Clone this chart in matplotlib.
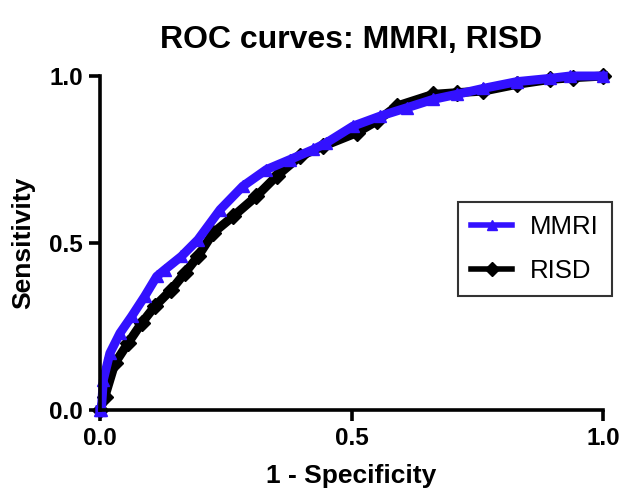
import matplotlib
matplotlib.use("Agg")
import matplotlib.pyplot as plt

plt.rcParams['font.family'] = ['Liberation Sans', 'DejaVu Sans']

# ROC points (1 - specificity, sensitivity)
fpr_mmri = [0.0, 0.003, 0.007, 0.02, 0.04, 0.063, 0.089, 0.113, 0.129, 0.162,
            0.195, 0.239, 0.284, 0.331, 0.378, 0.424, 0.45, 0.503, 0.557,
            0.61, 0.662, 0.709, 0.762, 0.828, 0.895, 0.934, 1.0]
tpr_mmri = [0.0, 0.0, 0.09, 0.17, 0.23, 0.28, 0.34, 0.40, 0.42, 0.46,
            0.51, 0.60, 0.67, 0.72, 0.75, 0.78, 0.80, 0.85, 0.88,
            0.905, 0.93, 0.945, 0.963, 0.983, 0.993, 1.0, 1.0]

fpr_risd = [0.0, 0.01, 0.03, 0.056, 0.083, 0.109, 0.142, 0.169, 0.195,
            0.225, 0.265, 0.311, 0.351, 0.398, 0.444, 0.51, 0.55, 0.59,
            0.662, 0.709, 0.762, 0.828, 0.895, 0.94, 1.0]
tpr_risd = [0.0, 0.04, 0.14, 0.20, 0.26, 0.31, 0.36, 0.41, 0.46,
            0.53, 0.58, 0.64, 0.70, 0.76, 0.79, 0.83, 0.865, 0.91,
            0.945, 0.95, 0.955, 0.975, 0.99, 0.995, 1.0]

blue = '#3311ff'

fig = plt.figure(figsize=(6.2, 4.92), dpi=100)
ax = fig.add_axes([0.161, 0.1667, 0.812, 0.6788])

ax.plot(fpr_risd, tpr_risd, color='black', lw=6.5, marker='D', ms=8,
        label='RISD', clip_on=False, solid_joinstyle='round')
ax.plot(fpr_mmri, tpr_mmri, color=blue, lw=6.5, marker='^', ms=9,
        label='MMRI', clip_on=False, solid_joinstyle='round')

ax.set_xlim(0, 1)
ax.set_ylim(0, 1)
ax.set_xticks([0.0, 0.5, 1.0])
ax.set_yticks([0.0, 0.5, 1.0])
ax.set_xticklabels(['0.0', '0.5', '1.0'])
ax.set_yticklabels(['0.0', '0.5', '1.0'])

for side in ['top', 'right']:
    ax.spines[side].set_visible(False)
for side in ['left', 'bottom']:
    ax.spines[side].set_linewidth(2.6)

ax.tick_params(axis='both', direction='out', length=8, width=2.6,
               labelsize=17.5, pad=4)
for lab in ax.get_xticklabels() + ax.get_yticklabels():
    lab.set_fontweight('bold')

ax.set_xlabel('1 - Specificity', fontsize=19, fontweight='bold', labelpad=10)
ax.set_ylabel('Sensitivity', fontsize=19, fontweight='bold', labelpad=10)
ax.set_title('ROC curves: MMRI, RISD', fontsize=23, fontweight='bold', pad=20)

handles, labels = ax.get_legend_handles_labels()
leg = ax.legend(handles[::-1], labels[::-1], loc='upper left',
                bbox_to_anchor=(0.712, 0.623), fontsize=18.5, frameon=True,
                fancybox=False, edgecolor='black', handlelength=1.6,
                handletextpad=0.7, labelspacing=0.8, borderpad=0.5,
                borderaxespad=0)
leg.get_frame().set_linewidth(1.5)
for h in leg.get_lines():
    h.set_linewidth(4)
    h.set_markersize(7)

fig.savefig('out.png', dpi=100)
